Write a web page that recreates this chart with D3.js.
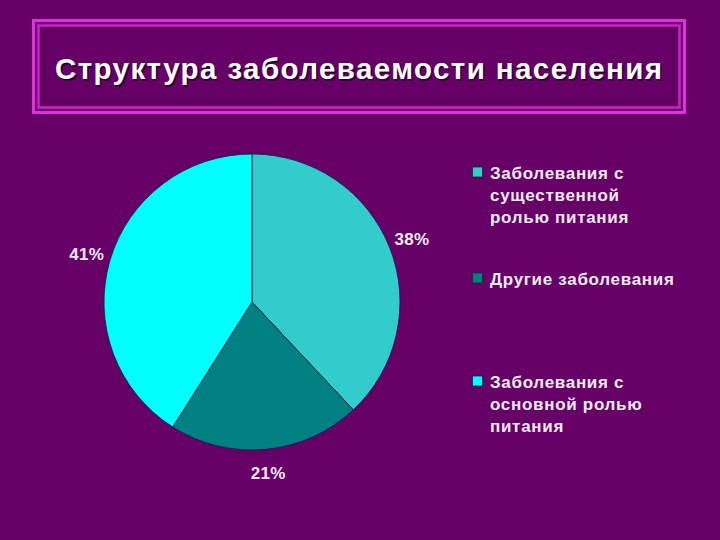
<!DOCTYPE html>
<html><head><meta charset="utf-8">
<script src="https://cdn.jsdelivr.net/npm/d3@7"></script>
<style>html,body{margin:0;padding:0;background:#660066;}svg{display:block;}</style>
</head><body>
<svg id="chart" width="720" height="540"></svg>
<script>
const title = "Структура заболеваемости населения";
const categories = ["Заболевания с существенной ролью питания", "Другие заболевания", "Заболевания с основной ролью питания"];
const legendLines = [["Заболевания с", "существенной", "ролью питания"], ["Другие заболевания"], ["Заболевания с", "основной ролью", "питания"]];
const values = [38, 21, 41];
const colors = ["#33cccc", "#008080", "#00ffff"];

const svg = d3.select("#chart");
const W = 720, H = 540;
const FONT = "Liberation Sans, Arial, sans-serif";
svg.append("rect").attr("width", W).attr("height", H).attr("fill", "#660066");

// Title box with double magenta border
const box = {x: 32, y: 19, w: 654, h: 95};
svg.append("rect").attr("x", box.x + 1.5).attr("y", box.y + 1.5).attr("width", box.w - 3).attr("height", box.h - 3)
  .attr("fill", "none").attr("stroke", "#dd33dd").attr("stroke-width", 3);
svg.append("rect").attr("x", box.x + 6.5).attr("y", box.y + 6.5).attr("width", box.w - 13).attr("height", box.h - 13)
  .attr("fill", "none").attr("stroke", "#cc22cc").attr("stroke-width", 2.5);
svg.append("rect").attr("x", box.x + 12).attr("y", box.y + 12).attr("width", box.w - 24).attr("height", box.h - 24)
  .attr("fill", "none").attr("stroke", "#55005a").attr("stroke-width", 1.5);

[["#2a002a", 1.5], ["#ffffff", 0]].forEach(([c, o]) => {
  svg.append("text").attr("x", 358.5 + o).attr("y", 79 + o)
    .attr("text-anchor", "middle").attr("font-family", FONT)
    .attr("font-weight", "bold").attr("font-size", 29.5)
    .attr("textLength", 607).attr("lengthAdjust", "spacing")
    .attr("fill", c).text(title);
});

// Pie
const cx = 252, cy = 302, R = 148;
const pie = d3.pie().sort(null).value(d => d)(values);
const arc = d3.arc().innerRadius(0).outerRadius(R);
const labelArc = d3.arc().innerRadius(172).outerRadius(172);
const g = svg.append("g").attr("transform", `translate(${cx},${cy})`);
g.selectAll("path").data(pie).join("path")
  .attr("d", arc).attr("fill", (d, i) => colors[i])
  .attr("stroke", "#1a1a40").attr("stroke-width", 0.8);
g.selectAll("text.lbl").data(pie).join("text").attr("class", "lbl")
  .attr("transform", d => `translate(${labelArc.centroid(d)})`)
  .attr("text-anchor", "middle").attr("dy", "0.36em")
  .attr("font-family", FONT).attr("font-weight", "bold")
  .attr("font-size", 17).attr("letter-spacing", 0.3).attr("fill", "#f4ecf4")
  .text(d => d.data + "%");

// Legend
const legendTops = [173, 279, 382];
const lg = svg.append("g");
legendLines.forEach((lines, i) => {
  lg.append("rect").attr("x", 472.5).attr("y", legendTops[i] - 6).attr("width", 10).attr("height", 10)
    .attr("fill", colors[i]).attr("stroke", "#222244").attr("stroke-width", 0.8);
  lines.forEach((ln, j) => {
    lg.append("text").attr("x", 490).attr("y", legendTops[i] + j * 22).attr("dy", "0.36em")
      .attr("font-family", FONT).attr("font-weight", "bold")
      .attr("font-size", 17).attr("letter-spacing", 0.7).attr("fill", "#f4ecf4").text(ln);
  });
});
</script>
</body></html>
